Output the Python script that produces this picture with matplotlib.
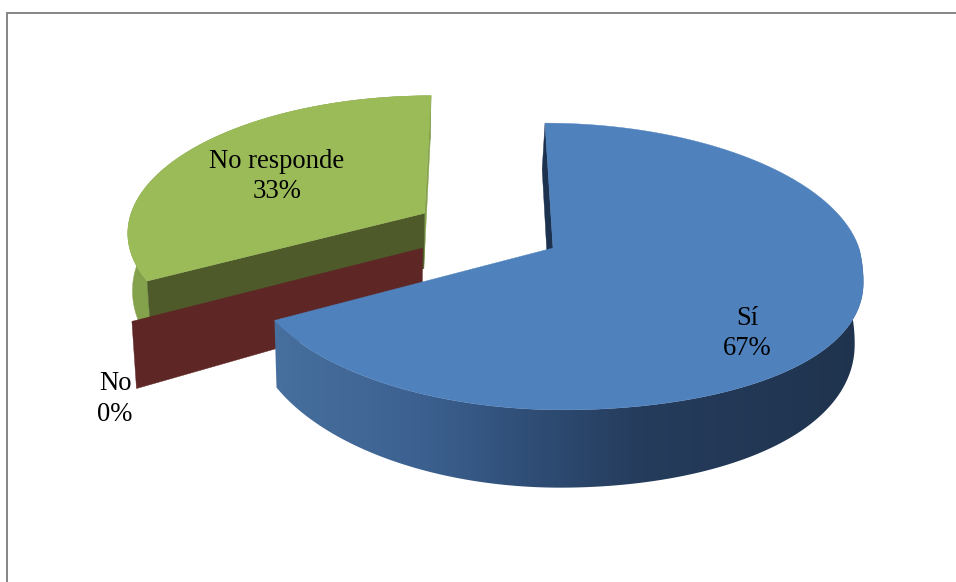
import numpy as np
from matplotlib import pyplot as plt
from matplotlib.colors import LinearSegmentedColormap
from matplotlib.patches import Polygon

labels = ['Sí', 'No', 'No responde']
values = [67, 0, 33]
percent_labels = ['67%', '0%', '33%']

# projection of the pie plane onto pixels
CX, CY = 553, 248
BU, BV, SV, K = 303, 141, 9, 0.129
DEPTH = 59

fig = plt.figure(figsize=(9.56, 5.82), dpi=100)
ax = fig.add_axes([0, 0, 1, 1])


def project(u, v, z=0.0):
    u, v = np.asarray(u, float), np.asarray(v, float)
    w = 1 - K * v
    ur = np.clip(u, 0, None)
    vf = np.clip(v, 0, None)
    # the reference rim is fuller towards the front right
    x = CX + (BU * u + SV * v) / w + 3 * ur ** 2 + 18 * ur * vf ** 2
    y = CY + (BV * v) / w + 10 * ur ** 2 * np.clip(v * 5, 0, 1)
    # lower face of the pie
    x = x - z * ((x - CX) * 0.018 + 3)
    y = y + z * DEPTH / w ** 2
    return np.column_stack([x, y])


def rim(a0, a1, off, n=300):
    t = np.radians(np.linspace(a0, a1, n))
    return off[0] + np.sin(t), off[1] - np.cos(t)


def offset(direction, e):
    t = np.radians(direction)
    return e * np.sin(t), -e * np.cos(t)


def poly(pts, color, z):
    ax.fill(pts[:, 0], pts[:, 1], fc=color, ec=color, lw=0.3, zorder=z)


def wall(a, off, color, z, r=1.0):
    u = off[0] + r * np.sin(np.radians(a))
    v = off[1] - r * np.cos(np.radians(a))
    uu = [u, off[0], off[0], u]
    vv = [v, off[1], off[1], v]
    zz = [0, 0, 1, 1]
    pts = np.vstack([project(uu[i], vv[i], zz[i]) for i in range(4)])
    poly(pts, color, z)


def side_points(a0, a1, off):
    u, v = rim(a0, a1, off)
    return np.vstack([project(u, v), project(u, v, 1)[::-1]])


def top_face(a0, a1, off, color, z):
    u, v = rim(a0, a1, off)
    u = np.append(u, off[0])
    v = np.append(v, off[1])
    poly(project(u, v), color, z)


total = sum(values)
end_si = 360.0 * values[0] / total
end_no = end_si + 360.0 * values[1] / total

# No responde, pulled out along its middle
off_g = offset((end_no + 360) / 2, 0.5)
poly(side_points(end_no, 360, off_g), '#84a24c', 1)
wall(360, off_g, '#84a24c', 1)
wall(end_no, off_g, '#4e5a2a', 2)
top_face(end_no, 360, off_g, '#9bbb59', 3)

# No is empty, only its cut face shows
off_r = offset(270, 0.43)
wall(end_si, off_r, '#5e2725', 4, r=1.012)

# Sí
wall(0, (0, 0), '#1c324f', 5)
si_side = LinearSegmentedColormap.from_list('si', [(0, '#47709f'), (0.25, '#3c6190'), (0.42, '#304f78'), (0.62, '#253c5c'), (1, '#1f334d')])
grad = ax.imshow(np.linspace(0, 1, 256).reshape(1, -1), cmap=si_side, extent=(270, 870, 500, 250), aspect='auto', zorder=6)
grad.set_clip_path(Polygon(side_points(0, end_si, (0, 0)), transform=ax.transData))
top_face(0, end_si, (0, 0), '#4f81bd', 7)

ax.set_xlim(0, 956)
ax.set_ylim(582, 0)
ax.axis('off')

font = dict(family='Liberation Serif', fontsize=19.2, color='black', ha='center', va='center', zorder=10, linespacing=1.27)
ax.text(277, 176.5, labels[2] + '\n' + percent_labels[2], **font)
ax.text(747, 333.5, labels[0] + '\n' + percent_labels[0], **font)
ax.text(115, 399, labels[1] + '\n' + percent_labels[1], **font)

# chart frame, only top and left land inside the crop
ax.plot([7, 7, 956], [582, 12.5, 12.5], color='#868686', lw=1.4, zorder=11, solid_joinstyle='miter')

fig.savefig('out.png', dpi=100)
